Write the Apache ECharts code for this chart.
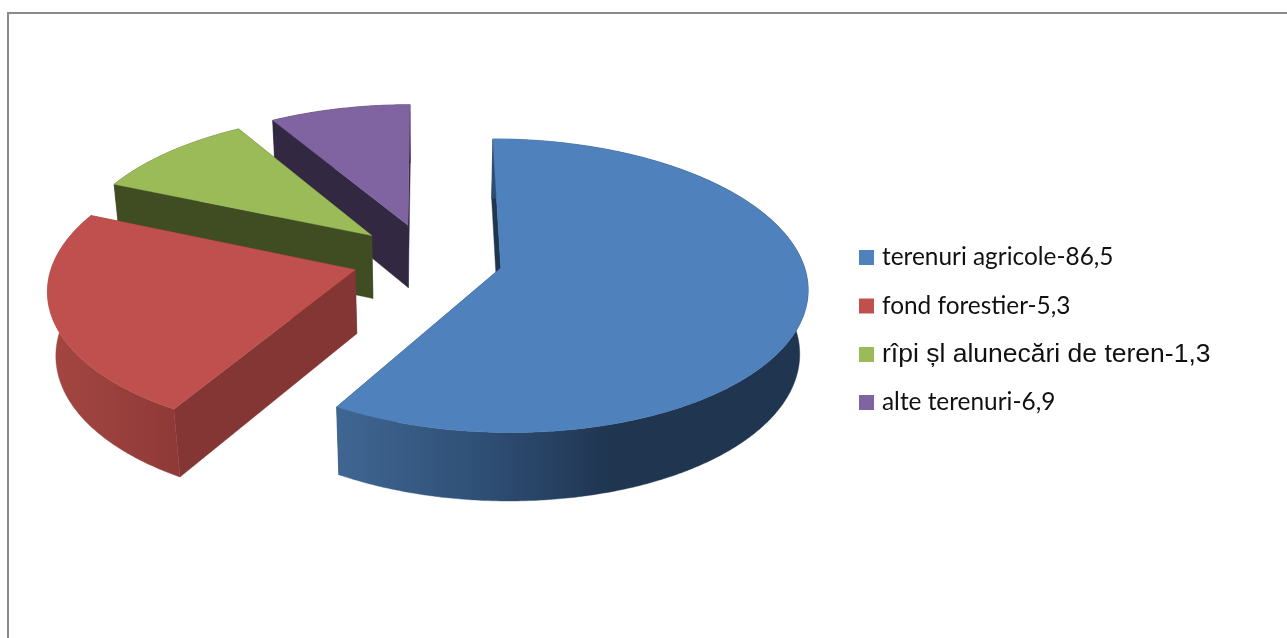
<!DOCTYPE html>
<html>
<head>
<meta charset="utf-8">
<style>html,body{margin:0;padding:0;background:#fff}#c{width:1287px;height:638px}</style>
<script src="https://cdn.jsdelivr.net/npm/echarts@6/dist/echarts.min.js"></script>
</head>
<body>
<div id="c"></div>
<script>
var categories = ['terenuri agricole-86,5', 'fond forestier-5,3', 'rîpi șl alunecări de teren-1,3', 'alte terenuri-6,9'];
var sliceShares = [58.5, 22.9, 10.0, 8.6];
var topColors = ['#4f81bd', '#c0504d', '#9bbb59', '#8064a2'];
var wallColors = ['#1f3550', '#843635', '#404c22', '#332841'];
var rimStops = [
  [[337, '#3f6692'], [487, '#2e4e74'], [613, '#1f3550'], [808, '#1f3550']],
  [[50, '#a44642'], [175, '#8f3a38']],
  [[100, '#404c22'], [380, '#404c22']],
  [[270, '#332841'], [410, '#332841']]
];
var legendFonts = ['Lato', 'Lato', 'Liberation Sans', 'Lato'];
var legendFontSizes = [24.4, 24.4, 26.5, 24.4];
var legendRows = [257.5, 306, 354.5, 402.5];
var paintOrder = [4, 3, 2, 1];

var view = {cx: 427.5, cy: 258.5, R: 301.5, Q: 142.4, p: 0.12, t: 0.022, D: 65, explode: 0.25, startAngle: 0};
var total = sliceShares.reduce(function (a, b) { return a + b; }, 0);

function project(u, v, z) {
  var w = 1 - view.p * v + view.t * z;
  return [view.cx + view.R * u / w, view.cy + (view.Q * v + view.D * z) / w];
}
function dir(deg) {
  var r = deg * Math.PI / 180;
  return [Math.sin(r), -Math.cos(r)];
}
function sliceShape(index) {
  var before = 0;
  for (var i = 0; i < index; i++) before += sliceShares[i];
  var a0 = view.startAngle + before / total * 360;
  var a1 = a0 + sliceShares[index] / total * 360;
  var m = dir((a0 + a1) / 2);
  var o = [m[0] * view.explode, m[1] * view.explode];
  var arc = [];
  for (var a = a0; a < a1; a += 0.5) arc.push(dir(a));
  arc.push(dir(a1));
  return {o: o, arc: arc};
}
function renderSlice(params, api) {
  var index = api.value(0);
  var s = sliceShape(index);
  var at = function (d, z) { return project(s.o[0] + d[0], s.o[1] + d[1], z); };
  var apexTop = project(s.o[0], s.o[1], 0), apexBot = project(s.o[0], s.o[1], 1);
  var first = s.arc[0], last = s.arc[s.arc.length - 1];
  var topPts = [apexTop].concat(s.arc.map(function (d) { return at(d, 0); }));
  var rimPts = s.arc.map(function (d) { return at(d, 0); })
    .concat(s.arc.slice().reverse().map(function (d) { return at(d, 1); }));
  var stops = rimStops[index];
  var x0 = stops[0][0], x1 = stops[stops.length - 1][0];
  var grad = new echarts.graphic.LinearGradient(x0, 0, x1, 0, stops.map(function (st) {
    return {offset: (st[0] - x0) / (x1 - x0), color: st[1]};
  }), true);
  var wall = wallColors[index];
  var poly = function (pts, fill) {
    return {type: 'polygon', shape: {points: pts}, style: {fill: fill, stroke: fill, lineWidth: 0.4}};
  };
  return {type: 'group', children: [
    poly([apexTop, at(first, 0), at(first, 1), apexBot], wall),
    poly([apexTop, at(last, 0), at(last, 1), apexBot], wall),
    poly(rimPts, grad),
    poly(topPts, topColors[index])
  ]};
}

var frame = [
  {type: 'line', silent: true, shape: {x1: 8, y1: 13, x2: 1287, y2: 13}, style: {stroke: '#8a8a8a', lineWidth: 2}},
  {type: 'line', silent: true, shape: {x1: 8, y1: 12, x2: 8, y2: 638}, style: {stroke: '#8a8a8a', lineWidth: 2}}
];
var legendMarks = [];
categories.forEach(function (name, i) {
  legendMarks.push({type: 'rect', silent: true, shape: {x: 859, y: legendRows[i] - 7.5, width: 15, height: 15}, style: {fill: topColors[i]}});
  legendMarks.push({type: 'text', silent: true, style: {
    x: 882, y: legendRows[i], text: name, verticalAlign: 'middle', align: 'left',
    fontFamily: legendFonts[i], fontSize: legendFontSizes[i], fill: '#111'
  }});
});

var chart = echarts.init(document.getElementById('c'), null, {renderer: 'canvas'});
chart.setOption({
  animation: false,
  backgroundColor: '#ffffff',
  tooltip: {show: false},
  graphic: frame.concat(legendMarks),
  series: categories.map(function (name, i) {
    return {
      type: 'custom',
      name: name,
      coordinateSystem: 'none',
      silent: true,
      z: paintOrder[i],
      itemStyle: {color: topColors[i]},
      renderItem: renderSlice,
      data: [[i, sliceShares[i]]]
    };
  })
});
</script>
</body>
</html>
